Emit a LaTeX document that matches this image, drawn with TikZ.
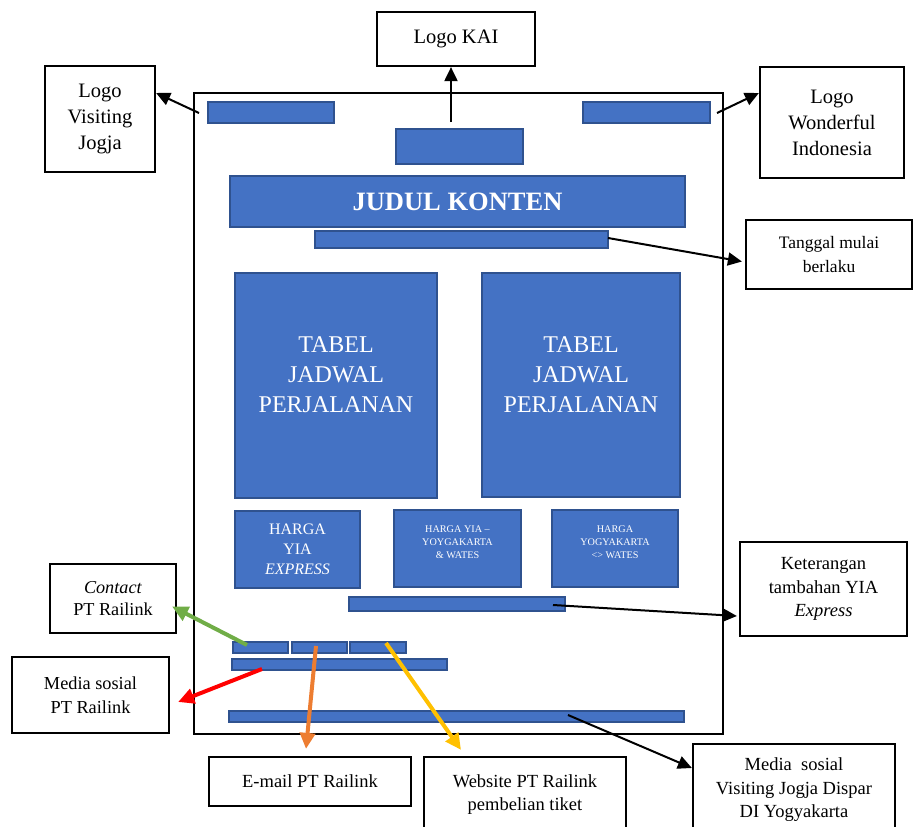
\documentclass[tikz,border=0pt]{standalone}
\usepackage{fontspec}
\setmainfont{Liberation Serif}
\usetikzlibrary{arrows.meta}
\definecolor{boxblue}{HTML}{4472C4}
\definecolor{boxedge}{HTML}{2F528F}
\definecolor{arrgreen}{HTML}{70AD47}
\definecolor{arrorange}{HTML}{ED7D31}
\definecolor{arryellow}{HTML}{FFC000}
\begin{document}
\begin{tikzpicture}[x=1pt,y=-1pt,
  lbl/.style={draw,line width=2.2pt,inner sep=0pt,align=center,font=\fontsize{18.5}{23.5}\selectfont},
  biglbl/.style={lbl,font=\fontsize{20.5}{26}\selectfont},
  blok/.style={draw=boxedge,fill=boxblue,line width=1.4pt,inner sep=0pt,text=white,align=center},
  tabtxt/.style={text=white,align=center,font=\fontsize{24}{30}\selectfont},
  hartxt/.style={text=white,align=center,font=\fontsize{10.2}{13}\selectfont},
  pin/.style={line width=2pt,-{Triangle[length=14pt,width=13pt]}},
  cpin/.style={line width=4pt,-{Triangle[length=16pt,width=15pt]}}]
\useasboundingbox (0,0) rectangle (914,827);
% page frame
\draw[line width=2.5pt] (194,93) rectangle (723,734);
% blue blocks of the poster
\node[blok,minimum width=126,minimum height=21] (logoL) at (271,112.5) {};
\node[blok,minimum width=127,minimum height=21] (logoR) at (646.5,112.5) {};
\node[blok,minimum width=127,minimum height=35] (logoM) at (459.5,146.5) {};
\node[blok,minimum width=455,minimum height=51,font=\fontsize{26.5}{30}\selectfont\bfseries] (judul) at (457.5,201.5) {JUDUL KONTEN};
\node[blok,minimum width=293,minimum height=17] (tglbar) at (461.5,239.5) {};
\node[blok,minimum width=202,minimum height=225,
  label={[tabtxt,yshift=10.5pt]center:{TABEL\\JADWAL\\PERJALANAN}}] (tabA) at (336,385.5) {};
\node[blok,minimum width=198,minimum height=224,
  label={[tabtxt,yshift=10pt]center:{TABEL\\JADWAL\\PERJALANAN}}] (tabB) at (581,385) {};
\node[blok,minimum width=125,minimum height=77,font=\fontsize{16}{20}\selectfont] (harA) at (297.5,549.5) {HARGA\\YIA\\\textit{EXPRESS}};
\node[blok,minimum width=127,minimum height=77,
  label={[hartxt,yshift=6.5pt]center:{HARGA YIA –\\YOYGAKARTA\\\& WATES}}] (harB) at (457.5,548.5) {};
\node[blok,minimum width=126,minimum height=77,
  label={[hartxt,yshift=6.5pt]center:{HARGA\\YOGYAKARTA\\<> WATES}}] (harC) at (615,548.5) {};
\node[blok,minimum width=216,minimum height=14] (ketbar) at (457,604) {};
\node[blok,minimum width=55,minimum height=11] (kontA) at (260.5,647.5) {};
\node[blok,minimum width=55,minimum height=11] (kontB) at (319.5,647.5) {};
\node[blok,minimum width=56,minimum height=11] (kontC) at (378,647.5) {};
\node[blok,minimum width=215,minimum height=11] (sosbar) at (339.5,664.5) {};
\node[blok,minimum width=455,minimum height=11] (footbar) at (456.5,716.5) {};
% caption boxes
\node[biglbl,minimum width=158,minimum height=54] (kai) at (456,39) {Logo KAI};
\node[biglbl,minimum width=110,minimum height=106] (vj) at (100,119) {Logo\\Visiting\\Jogja};
\node[biglbl,minimum width=144,minimum height=111] (wi) at (832,122.5) {Logo\\Wonderful\\Indonesia};
\node[lbl,minimum width=166,minimum height=69,font=\fontsize{17.5}{24}\selectfont] (tgl) at (829,254.5) {Tanggal mulai\\berlaku};
\node[lbl,minimum width=167,minimum height=94] (ket) at (823.5,589) {Keterangan\\tambahan YIA\\\textit{Express}};
\node[lbl,minimum width=202,minimum height=92] (msvj) at (794,790) {Media\ \ sosial\\Visiting Jogja Dispar\\DI Yogyakarta};
\node[lbl,minimum width=126,minimum height=69,font=\fontsize{18.2}{22}\selectfont] (kontak) at (113,598.5) {\textit{Contact}\\PT Railink};
\node[lbl,minimum width=157,minimum height=76,font=\fontsize{18.3}{24}\selectfont] (mspt) at (90.5,695) {Media sosial\\PT Railink};
\node[lbl,minimum width=202,minimum height=49] (email) at (310,781.5) {E-mail PT Railink};
\node[lbl,minimum width=202,minimum height=75] (web) at (525,794.5) {Website PT Railink\\pembelian tiket};
% arrow starts
\coordinate (kaiS) at (451,122);
\coordinate (vjS) at (199,113);
\coordinate (wiS) at (717,113);
\coordinate (tglS) at (608,238);
\coordinate (ketS) at (553,605);
\coordinate (msvjS) at (568,715);
\coordinate (kontakS) at (247,645);
\coordinate (msptS) at (262,669);
\coordinate (emailS) at (316,646);
\coordinate (webS) at (386,643);
% arrows
\draw[pin] (kaiS) -- (kai.south -| kaiS);
\draw[pin] (vjS) -- ([yshift=26pt]vj.east);
\draw[pin] (wiS) -- ([yshift=29.5pt]wi.west);
\draw[pin] (tglS) -- ([xshift=-3pt,yshift=-7pt]tgl.west);
\draw[pin] (ketS) -- ([xshift=-2pt,yshift=-27pt]ket.west);
\draw[pin] (msvjS) -- ([yshift=22pt]msvj.west);
\draw[cpin,arrgreen] (kontakS) -- ([xshift=-5pt,yshift=-8pt]kontak.east);
\draw[cpin,red] (msptS) -- ([xshift=8pt,yshift=-7pt]mspt.east);
\draw[cpin,arrorange] (emailS) -- ([xshift=-4pt,yshift=7pt]email.north);
\draw[cpin,arryellow] (webS) -- ([xshift=-64pt,yshift=6pt]web.north);
\end{tikzpicture}
\end{document}
